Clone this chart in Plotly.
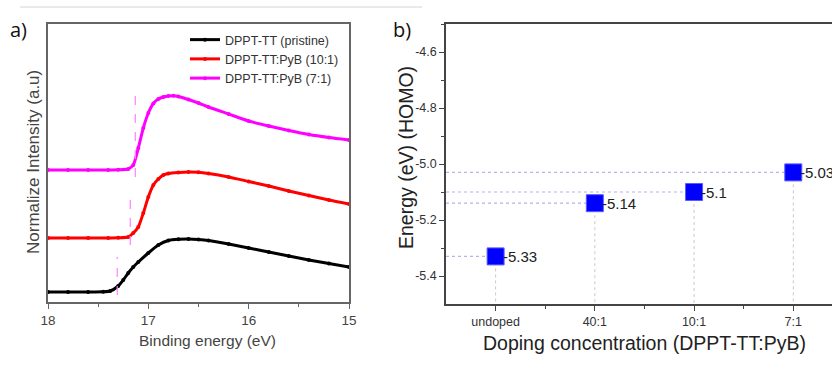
import plotly.graph_objects as go

# ---------- Panel a data (UPS secondary-electron cutoff) ----------
energy_black = [18.0, 17.8, 17.6, 17.45, 17.38, 17.3, 17.25, 17.2, 17.15, 17.1, 17.0, 16.9, 16.8, 16.7,
                16.6, 16.5, 16.4, 16.2, 16.0, 15.8, 15.6, 15.4, 15.2, 15.0]
int_black = [10, 10, 10, 10.2, 11, 16, 22, 29, 35, 40, 49, 57, 61.5, 62.7,
             63, 62.5, 61.5, 58, 54, 50, 46, 42, 38.5, 35]

energy_red = [18.0, 17.8, 17.6, 17.4, 17.3, 17.2, 17.15, 17.1, 17.05, 17.0, 16.95, 16.9, 16.85, 16.8,
              16.7, 16.6, 16.5, 16.4, 16.2, 16.0, 15.8, 15.6, 15.4, 15.2, 15.0]
int_red = [64, 64, 64, 64, 64.2, 65, 69, 75, 89, 105, 117, 123, 127, 128.5,
           129.5, 130, 129.7, 128.5, 125, 120.5, 116, 111, 106.5, 102, 98]

energy_mag = [18.0, 17.8, 17.6, 17.4, 17.3, 17.2, 17.15, 17.1, 17.05, 17.0, 16.95, 16.9, 16.85, 16.8,
              16.75, 16.7, 16.6, 16.5, 16.4, 16.2, 16.0, 15.8, 15.6, 15.4, 15.2, 15.0]
int_mag = [132, 132, 132, 132, 132.2, 133, 137, 154, 174, 189, 198.5, 203, 205, 206,
           206.3, 205.5, 202.5, 199, 195, 188, 181, 176, 171.5, 167.5, 164.5, 162]

series_names = ["DPPT-TT (pristine)", "DPPT-TT:PyB (10:1)", "DPPT-TT:PyB (7:1)"]

onset_energy = [17.31, 17.18, 17.13]
onset_low = [7, 57, 125]
onset_high = [45, 109, 210]

xticks_a = [18, 17, 16, 15]

# ---------- Panel b data (HOMO levels) ----------
categories = ["undoped", "40:1", "10:1", "7:1"]
homo = [-5.33, -5.14, -5.1, -5.03]
homo_labels = ["-5.33", "-5.14", "-5.1", "-5.03"]
yticks_b = [-4.6, -4.8, -5.0, -5.2, -5.4]
yticktext_b = ["-4.6", "-4.8", "-5.0", "-5.2", "-5.4"]

W, H = 832, 378
def px(x): return x / W
def py(y): return 1 - y / H

fig = go.Figure()

colors = ["#000000", "#ff0000", "#ff00ff"]
for e, v, n, c in zip([energy_black, energy_red, energy_mag], [int_black, int_red, int_mag], series_names, colors):
    fig.add_trace(go.Scatter(x=e, y=v, name=n, mode="lines+markers",
                             line=dict(color=c, width=3, shape="spline", smoothing=0.6),
                             marker=dict(color=c, size=4),
                             xaxis="x", yaxis="y"))

for e, lo, hi in zip(onset_energy, onset_low, onset_high):
    fig.add_trace(go.Scatter(x=[e, e], y=[lo, hi], mode="lines", showlegend=False,
                             line=dict(color="#ff80ff", width=1.2, dash="dash"),
                             xaxis="x", yaxis="y", hoverinfo="skip"))

# Panel b drop lines
x_idx = list(range(len(categories)))
for i, h in zip(x_idx, homo):
    fig.add_trace(go.Scatter(x=[-0.5, i], y=[h, h], mode="lines", showlegend=False,
                             line=dict(color="#b4b4f0", width=1.2, dash="dot"),
                             xaxis="x2", yaxis="y2", hoverinfo="skip"))
    fig.add_trace(go.Scatter(x=[i, i], y=[h, -5.5], mode="lines", showlegend=False,
                             line=dict(color="#c8c8c8", width=1, dash="dot"),
                             xaxis="x2", yaxis="y2", hoverinfo="skip"))

fig.add_trace(go.Scatter(x=x_idx, y=homo, mode="markers", showlegend=False,
                         marker=dict(symbol="square", size=17, color="#0000ff",
                                     line=dict(color="#5a5aff", width=1)),
                         xaxis="x2", yaxis="y2"))

axis_a_color = "#666666"
fig.update_layout(
    width=W, height=H,
    margin=dict(l=0, r=0, t=0, b=0, autoexpand=False),
    paper_bgcolor="white", plot_bgcolor="white",
    showlegend=True,
    legend=dict(x=px(185), y=py(25), xanchor="left", yanchor="top",
                bgcolor="rgba(0,0,0,0)", itemwidth=30, tracegroupgap=0,
                font=dict(family="Liberation Sans", size=12.5, color="#333333")),
    xaxis=dict(domain=[px(48), px(349)], range=[18, 15], anchor="y", automargin=False,
               tickvals=xticks_a, ticks="outside", ticklen=5, tickwidth=1.2,
               tickcolor=axis_a_color, showgrid=False, zeroline=False,
               showline=True, linecolor=axis_a_color, linewidth=1.5, mirror=True,
               minor=dict(dtick=0.5, ticks="outside", ticklen=3, tickcolor=axis_a_color),
               tickfont=dict(family="Liberation Sans", size=13.5, color="#444444")),
    yaxis=dict(domain=[py(302), py(24)], range=[0, 278], anchor="x", automargin=False,
               showticklabels=False, ticks="", showgrid=False, zeroline=False,
               showline=True, linecolor=axis_a_color, linewidth=1.5, mirror=True),
    xaxis2=dict(domain=[px(446), 1.0], range=[-0.5, 3.39], anchor="y2", automargin=False,
                tickvals=x_idx, ticktext=categories, ticks="outside", ticklen=5,
                tickcolor="#444444", showgrid=False, zeroline=False,
                showline=True, linecolor="#444444", linewidth=1.5, mirror=True,
                minor=dict(tickvals=[0.5, 1.5, 2.5], ticks="outside", ticklen=3, tickcolor="#444444"),
                tickfont=dict(family="Liberation Sans", size=12.5, color="#333333")),
    yaxis2=dict(domain=[py(304), py(24)], range=[-5.5, -4.5], anchor="x2", automargin=False,
                tickvals=yticks_b, ticktext=yticktext_b, ticks="outside", ticklen=5,
                tickcolor="#444444", showgrid=False, zeroline=False,
                showline=True, linecolor="#444444", linewidth=1.5,
                minor=dict(tickvals=[-4.5, -4.7, -4.9, -5.1, -5.3], ticks="outside", ticklen=3, tickcolor="#444444"),
                tickfont=dict(family="Liberation Sans", size=12.5, color="#333333")),
)

ann = [
    dict(text="a)", x=px(8), y=py(30), xanchor="left", yanchor="middle",
         font=dict(family="Open Sans", size=20, color="#111111")),
    dict(text="b)", x=px(391), y=py(30), xanchor="left", yanchor="middle",
         font=dict(family="Open Sans", size=20, color="#111111")),
    dict(text="Normalize Intensity (a.u)", x=px(33), y=py(162), textangle=-90,
         xanchor="center", yanchor="middle",
         font=dict(family="Liberation Sans", size=17, color="#444444")),
    dict(text="Binding energy (eV)", x=px(207), y=py(340), xanchor="center", yanchor="middle",
         font=dict(family="Liberation Sans", size=15.5, color="#444444")),
    dict(text="Energy (eV) (HOMO)", x=px(406), y=py(158), textangle=-90,
         xanchor="center", yanchor="middle",
         font=dict(family="Liberation Sans", size=19.5, color="#222222")),
    dict(text="Doping concentration (DPPT-TT:PyB)", x=px(644), y=py(343),
         xanchor="center", yanchor="middle",
         font=dict(family="Liberation Sans", size=19.5, color="#222222")),
]
for a in ann:
    a.update(xref="paper", yref="paper", showarrow=False)

# value labels next to the HOMO markers
for i, h, t in zip(x_idx, homo, homo_labels):
    ann.append(dict(text=t, x=i, y=h, xref="x2", yref="y2", xanchor="left", yanchor="middle",
                    xshift=5, showarrow=False,
                    font=dict(family="Liberation Sans", size=15, color="#222222")))

fig.update_layout(annotations=ann)

fig.add_shape(type="line", xref="paper", yref="paper", x0=px(20), x1=px(422), y0=py(7), y1=py(7),
              line=dict(color="#d4d4d4", width=1))

fig.write_html("out.html", config={"displayModeBar": False},
               post_script="document.body.style.margin='0';")
